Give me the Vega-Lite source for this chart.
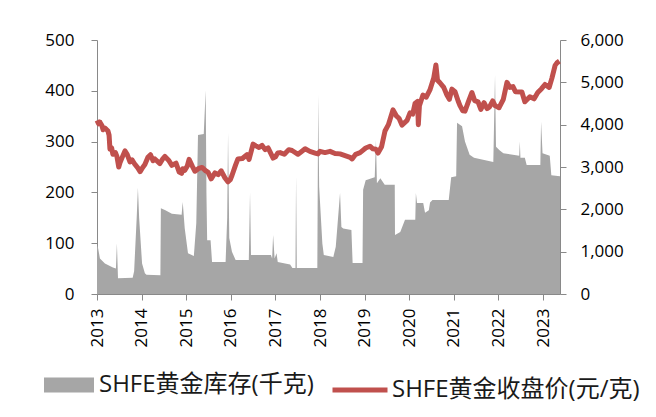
{
  "$schema": "https://vega.github.io/schema/vega-lite/v6.json",
  "width": 463,
  "height": 254,
  "autosize": {"type": "none"},
  "padding": {"left": 97, "top": 40, "right": 96, "bottom": 123},
  "background": "white",
  "config": {
    "view": {"stroke": null},
    "font": "Open Sans, Noto Sans CJK SC",
    "axis": {
      "grid": false,
      "domainColor": "#898989",
      "tickColor": "#898989",
      "labelColor": "#000000",
      "labelFont": "Open Sans",
      "labelFontSize": 17,
      "title": null
    },
    "legend": {
      "labelFont": "Open Sans, Noto Sans CJK SC",
      "labelFontSize": 24,
      "labelColor": "#1a1a1a",
      "labelLimit": 500,
      "direction": "horizontal",
      "padding": 0,
      "title": null
    }
  },
  "datasets": {
    "inv": [
      {"date": "2013-01-01", "v": 97},
      {"date": "2013-01-10", "v": 90},
      {"date": "2013-01-25", "v": 70},
      {"date": "2013-03-07", "v": 60},
      {"date": "2013-05-11", "v": 52},
      {"date": "2013-06-05", "v": 50},
      {"date": "2013-06-13", "v": 100},
      {"date": "2013-06-22", "v": 31},
      {"date": "2013-10-20", "v": 32},
      {"date": "2013-11-01", "v": 45},
      {"date": "2013-11-22", "v": 150},
      {"date": "2013-12-02", "v": 209},
      {"date": "2013-12-12", "v": 150},
      {"date": "2014-01-05", "v": 60},
      {"date": "2014-01-28", "v": 41},
      {"date": "2014-02-10", "v": 38},
      {"date": "2014-06-04", "v": 37},
      {"date": "2014-06-08", "v": 169},
      {"date": "2014-07-15", "v": 165},
      {"date": "2014-09-06", "v": 158},
      {"date": "2014-11-25", "v": 156},
      {"date": "2014-12-04", "v": 181},
      {"date": "2014-12-20", "v": 130},
      {"date": "2015-01-16", "v": 80},
      {"date": "2015-03-05", "v": 75},
      {"date": "2015-03-25", "v": 140},
      {"date": "2015-04-08", "v": 313},
      {"date": "2015-05-25", "v": 315},
      {"date": "2015-06-10", "v": 401},
      {"date": "2015-06-16", "v": 200},
      {"date": "2015-06-22", "v": 106},
      {"date": "2015-07-20", "v": 106},
      {"date": "2015-08-01", "v": 63},
      {"date": "2015-11-20", "v": 63},
      {"date": "2015-12-03", "v": 150},
      {"date": "2015-12-10", "v": 317},
      {"date": "2015-12-20", "v": 110},
      {"date": "2016-01-11", "v": 83},
      {"date": "2016-02-10", "v": 67},
      {"date": "2016-05-28", "v": 67},
      {"date": "2016-06-07", "v": 200},
      {"date": "2016-06-15", "v": 77},
      {"date": "2016-11-25", "v": 77},
      {"date": "2016-12-05", "v": 70},
      {"date": "2016-12-13", "v": 116},
      {"date": "2016-12-25", "v": 70},
      {"date": "2017-01-10", "v": 80},
      {"date": "2017-01-20", "v": 63},
      {"date": "2017-05-01", "v": 58},
      {"date": "2017-05-20", "v": 51},
      {"date": "2017-06-14", "v": 51},
      {"date": "2017-06-19", "v": 234},
      {"date": "2017-06-25", "v": 51},
      {"date": "2017-12-10", "v": 51},
      {"date": "2017-12-17", "v": 392},
      {"date": "2017-12-25", "v": 211},
      {"date": "2018-01-20", "v": 100},
      {"date": "2018-02-01", "v": 77},
      {"date": "2018-04-20", "v": 73},
      {"date": "2018-05-10", "v": 93},
      {"date": "2018-06-14", "v": 199},
      {"date": "2018-06-25", "v": 132},
      {"date": "2018-07-10", "v": 129},
      {"date": "2018-09-15", "v": 126},
      {"date": "2018-09-25", "v": 61},
      {"date": "2018-12-15", "v": 61},
      {"date": "2018-12-20", "v": 205},
      {"date": "2019-01-10", "v": 224},
      {"date": "2019-03-25", "v": 230},
      {"date": "2019-04-04", "v": 303},
      {"date": "2019-04-12", "v": 218},
      {"date": "2019-05-10", "v": 228},
      {"date": "2019-06-15", "v": 215},
      {"date": "2019-09-05", "v": 215},
      {"date": "2019-09-07", "v": 116},
      {"date": "2019-10-20", "v": 122},
      {"date": "2019-11-28", "v": 146},
      {"date": "2020-02-20", "v": 146},
      {"date": "2020-02-25", "v": 199},
      {"date": "2020-03-05", "v": 179},
      {"date": "2020-04-25", "v": 179},
      {"date": "2020-05-10", "v": 160},
      {"date": "2020-06-10", "v": 165},
      {"date": "2020-06-20", "v": 180},
      {"date": "2020-07-10", "v": 185},
      {"date": "2020-11-20", "v": 185},
      {"date": "2020-12-10", "v": 230},
      {"date": "2021-01-20", "v": 232},
      {"date": "2021-01-27", "v": 337},
      {"date": "2021-03-09", "v": 330},
      {"date": "2021-04-02", "v": 300},
      {"date": "2021-05-10", "v": 274},
      {"date": "2021-06-15", "v": 268},
      {"date": "2021-11-20", "v": 260},
      {"date": "2021-12-04", "v": 431},
      {"date": "2021-12-12", "v": 290},
      {"date": "2022-01-10", "v": 283},
      {"date": "2022-02-10", "v": 277},
      {"date": "2022-06-20", "v": 272},
      {"date": "2022-06-25", "v": 300},
      {"date": "2022-06-30", "v": 268},
      {"date": "2022-08-05", "v": 268},
      {"date": "2022-08-20", "v": 254},
      {"date": "2022-12-10", "v": 254},
      {"date": "2022-12-16", "v": 339},
      {"date": "2022-12-28", "v": 277},
      {"date": "2023-02-25", "v": 272},
      {"date": "2023-03-10", "v": 234},
      {"date": "2023-05-20", "v": 232}
    ],
    "price": [
      {"date": "2013-01-01", "p": 4100},
      {"date": "2013-01-15", "p": 4020},
      {"date": "2013-01-25", "p": 4060},
      {"date": "2013-02-10", "p": 3980},
      {"date": "2013-02-20", "p": 3880},
      {"date": "2013-03-07", "p": 3920},
      {"date": "2013-04-01", "p": 3850},
      {"date": "2013-04-10", "p": 3750},
      {"date": "2013-04-17", "p": 3420},
      {"date": "2013-05-01", "p": 3450},
      {"date": "2013-05-11", "p": 3300},
      {"date": "2013-06-01", "p": 3340},
      {"date": "2013-06-13", "p": 3250},
      {"date": "2013-06-28", "p": 3000},
      {"date": "2013-07-08", "p": 3100},
      {"date": "2013-07-28", "p": 3240},
      {"date": "2013-08-18", "p": 3380},
      {"date": "2013-09-05", "p": 3300},
      {"date": "2013-09-28", "p": 3120},
      {"date": "2013-10-15", "p": 3170},
      {"date": "2013-11-08", "p": 3060},
      {"date": "2013-12-01", "p": 2980},
      {"date": "2013-12-20", "p": 2890},
      {"date": "2014-01-10", "p": 2990},
      {"date": "2014-01-28", "p": 3060},
      {"date": "2014-02-22", "p": 3230},
      {"date": "2014-03-15", "p": 3290},
      {"date": "2014-04-05", "p": 3150},
      {"date": "2014-04-20", "p": 3190},
      {"date": "2014-05-31", "p": 3080},
      {"date": "2014-06-20", "p": 3180},
      {"date": "2014-07-11", "p": 3250},
      {"date": "2014-08-10", "p": 3160},
      {"date": "2014-09-06", "p": 3040},
      {"date": "2014-10-10", "p": 3090},
      {"date": "2014-11-05", "p": 2880},
      {"date": "2014-11-25", "p": 2850},
      {"date": "2014-12-04", "p": 2960},
      {"date": "2014-12-20", "p": 2920},
      {"date": "2015-01-10", "p": 3020},
      {"date": "2015-01-25", "p": 3180},
      {"date": "2015-02-20", "p": 3020},
      {"date": "2015-03-14", "p": 2900},
      {"date": "2015-04-10", "p": 2960},
      {"date": "2015-05-11", "p": 2990},
      {"date": "2015-06-10", "p": 2910},
      {"date": "2015-06-29", "p": 2880},
      {"date": "2015-07-25", "p": 2720},
      {"date": "2015-08-25", "p": 2860},
      {"date": "2015-09-20", "p": 2820},
      {"date": "2015-10-15", "p": 2910},
      {"date": "2015-11-15", "p": 2740},
      {"date": "2015-12-10", "p": 2650},
      {"date": "2015-12-28", "p": 2700},
      {"date": "2016-01-11", "p": 2800},
      {"date": "2016-02-10", "p": 3050},
      {"date": "2016-02-29", "p": 3190},
      {"date": "2016-04-05", "p": 3200},
      {"date": "2016-05-13", "p": 3290},
      {"date": "2016-05-30", "p": 3180},
      {"date": "2016-07-02", "p": 3540},
      {"date": "2016-07-25", "p": 3500},
      {"date": "2016-08-20", "p": 3460},
      {"date": "2016-09-14", "p": 3510},
      {"date": "2016-10-10", "p": 3410},
      {"date": "2016-11-02", "p": 3450},
      {"date": "2016-12-13", "p": 3210},
      {"date": "2017-01-01", "p": 3240},
      {"date": "2017-01-20", "p": 3330},
      {"date": "2017-02-08", "p": 3340},
      {"date": "2017-03-15", "p": 3300},
      {"date": "2017-04-20", "p": 3410},
      {"date": "2017-05-17", "p": 3390},
      {"date": "2017-07-05", "p": 3300},
      {"date": "2017-08-01", "p": 3360},
      {"date": "2017-09-01", "p": 3430},
      {"date": "2017-10-10", "p": 3370},
      {"date": "2017-11-22", "p": 3330},
      {"date": "2017-12-15", "p": 3310},
      {"date": "2018-01-01", "p": 3370},
      {"date": "2018-02-11", "p": 3340},
      {"date": "2018-03-24", "p": 3370},
      {"date": "2018-05-04", "p": 3320},
      {"date": "2018-06-14", "p": 3310},
      {"date": "2018-07-25", "p": 3270},
      {"date": "2018-09-04", "p": 3230},
      {"date": "2018-09-21", "p": 3190},
      {"date": "2018-10-20", "p": 3300},
      {"date": "2018-11-25", "p": 3340},
      {"date": "2018-12-20", "p": 3400},
      {"date": "2019-01-10", "p": 3450},
      {"date": "2019-02-14", "p": 3490},
      {"date": "2019-03-10", "p": 3430},
      {"date": "2019-04-04", "p": 3420},
      {"date": "2019-04-21", "p": 3330},
      {"date": "2019-05-20", "p": 3480},
      {"date": "2019-06-17", "p": 3850},
      {"date": "2019-07-15", "p": 4000},
      {"date": "2019-08-22", "p": 4350},
      {"date": "2019-09-20", "p": 4200},
      {"date": "2019-10-10", "p": 4150},
      {"date": "2019-11-03", "p": 3990},
      {"date": "2019-12-15", "p": 4100},
      {"date": "2020-01-08", "p": 4280},
      {"date": "2020-01-30", "p": 4250},
      {"date": "2020-02-18", "p": 4500},
      {"date": "2020-03-10", "p": 4550},
      {"date": "2020-03-16", "p": 4000},
      {"date": "2020-03-25", "p": 4450},
      {"date": "2020-04-23", "p": 4700},
      {"date": "2020-05-20", "p": 4650},
      {"date": "2020-06-19", "p": 4820},
      {"date": "2020-07-20", "p": 5100},
      {"date": "2020-08-07", "p": 5410},
      {"date": "2020-08-20", "p": 5050},
      {"date": "2020-09-09", "p": 4990},
      {"date": "2020-10-10", "p": 4880},
      {"date": "2020-11-05", "p": 4700},
      {"date": "2020-11-25", "p": 4600},
      {"date": "2020-12-16", "p": 4840},
      {"date": "2021-01-10", "p": 4780},
      {"date": "2021-02-05", "p": 4560},
      {"date": "2021-02-20", "p": 4450},
      {"date": "2021-03-15", "p": 4330},
      {"date": "2021-04-02", "p": 4320},
      {"date": "2021-05-01", "p": 4550},
      {"date": "2021-05-29", "p": 4760},
      {"date": "2021-06-20", "p": 4570},
      {"date": "2021-07-18", "p": 4540},
      {"date": "2021-08-10", "p": 4360},
      {"date": "2021-09-05", "p": 4520},
      {"date": "2021-09-30", "p": 4380},
      {"date": "2021-10-20", "p": 4420},
      {"date": "2021-11-15", "p": 4560},
      {"date": "2021-12-04", "p": 4450},
      {"date": "2022-01-06", "p": 4400},
      {"date": "2022-02-10", "p": 4600},
      {"date": "2022-03-12", "p": 5000},
      {"date": "2022-04-05", "p": 4880},
      {"date": "2022-04-30", "p": 4900},
      {"date": "2022-05-20", "p": 4780},
      {"date": "2022-07-12", "p": 4770},
      {"date": "2022-08-05", "p": 4540},
      {"date": "2022-09-15", "p": 4660},
      {"date": "2022-10-20", "p": 4610},
      {"date": "2022-11-19", "p": 4760},
      {"date": "2022-12-20", "p": 4850},
      {"date": "2023-01-17", "p": 4950},
      {"date": "2023-02-20", "p": 4880},
      {"date": "2023-03-15", "p": 5100},
      {"date": "2023-04-10", "p": 5400},
      {"date": "2023-04-25", "p": 5460},
      {"date": "2023-05-15", "p": 5500}
    ]
  },
  "layer": [
    {
      "data": {"name": "inv"},
      "mark": {"type": "area", "interpolate": "linear"},
      "encoding": {
        "x": {
          "field": "date",
          "type": "temporal",
          "scale": {"domain": ["2013-01-01", "2023-05-20"]},
          "axis": {
            "values": ["2013-01-01", "2014-01-01", "2015-01-01", "2016-01-01", "2017-01-01", "2018-01-01", "2019-01-01", "2020-01-01", "2021-01-01", "2022-01-01", "2023-01-01"],
            "format": "%Y",
            "labelAngle": -90,
            "tickSize": 6,
            "labelPadding": 8
          }
        },
        "y": {
          "field": "v",
          "type": "quantitative",
          "scale": {"domain": [0, 500]},
          "axis": {"orient": "left", "values": [0, 100, 200, 300, 400, 500], "tickSize": 6, "labelPadding": 17}
        },
        "fill": {
          "datum": "SHFE黄金库存(千克)",
          "type": "nominal",
          "scale": {"range": ["#A6A6A6"]},
          "legend": {"orient": "none", "legendX": -53, "legendY": 320, "symbolType": "M-1,-0.3H1V0.3H-1Z", "symbolSize": 2500, "symbolStrokeWidth": 0, "labelOffset": 5}
        }
      }
    },
    {
      "data": {"name": "price"},
      "mark": {"type": "line", "strokeWidth": 5, "strokeJoin": "round"},
      "encoding": {
        "x": {"field": "date", "type": "temporal"},
        "y": {
          "field": "p",
          "type": "quantitative",
          "scale": {"domain": [0, 6000]},
          "axis": {"orient": "right", "values": [0, 1000, 2000, 3000, 4000, 5000, 6000], "format": ",.0f", "tickSize": 6, "labelPadding": 14}
        },
        "stroke": {
          "datum": "SHFE黄金收盘价(元/克)",
          "type": "nominal",
          "scale": {"range": ["#C0504D"]},
          "legend": {"orient": "none", "legendX": 233, "legendY": 320, "symbolType": "stroke", "symbolSize": 3025, "symbolStrokeWidth": 5, "labelOffset": 2}
        }
      }
    }
  ],
  "resolve": {"scale": {"y": "independent"}}
}
